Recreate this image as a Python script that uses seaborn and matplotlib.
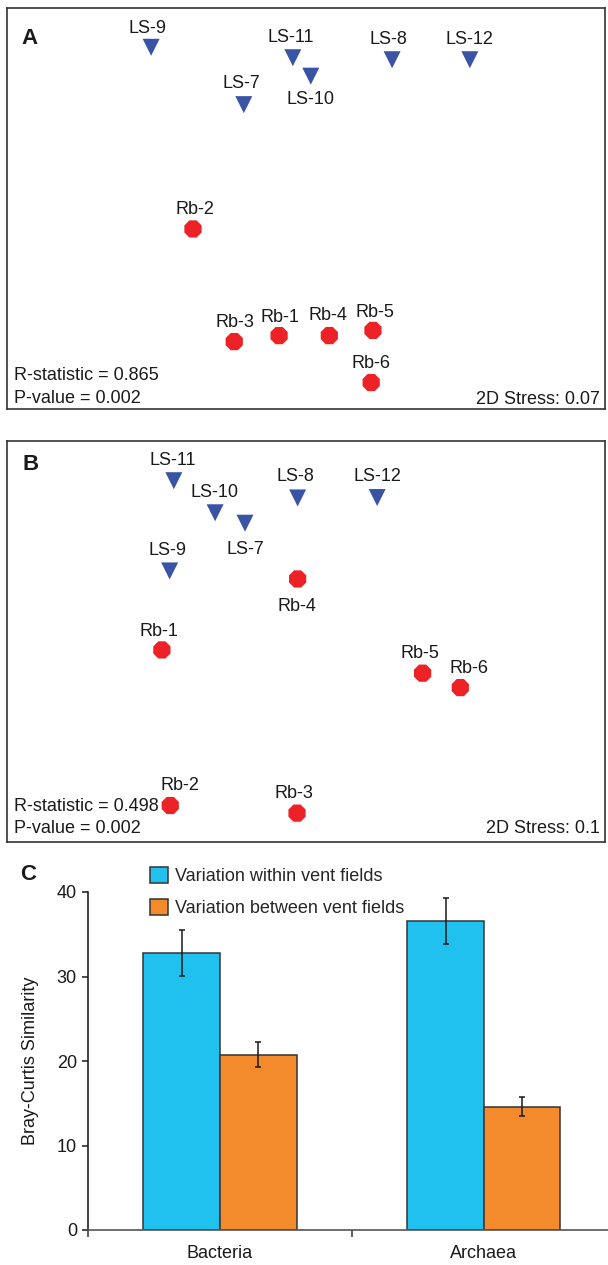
import numpy as np
import pandas as pd
import matplotlib
matplotlib.use("Agg")
import matplotlib.pyplot as plt
import seaborn as sns
from matplotlib.patches import Patch

# ---------------- data ----------------
# Panel A: NMDS ordination (arbitrary units)
a_samples = ["LS-9", "LS-11", "LS-10", "LS-7", "LS-8", "LS-12",
             "Rb-2", "Rb-3", "Rb-1", "Rb-4", "Rb-5", "Rb-6"]
a_x = [24.1, 47.8, 50.8, 39.6, 64.4, 77.4, 31.1, 38.0, 45.5, 53.9, 61.2, 60.9]
a_y = [90.2, 87.6, 83.0, 75.9, 87.1, 87.1, 44.9, 16.8, 18.3, 18.3, 19.6, 6.6]
a_stats = ["R-statistic = 0.865", "P-value = 0.002", "2D Stress: 0.07"]

# Panel B: NMDS ordination (arbitrary units)
b_samples = ["LS-11", "LS-10", "LS-7", "LS-8", "LS-12", "LS-9",
             "Rb-4", "Rb-1", "Rb-5", "Rb-6", "Rb-2", "Rb-3"]
b_x = [27.9, 34.8, 39.8, 48.6, 61.9, 27.2, 48.6, 25.9, 69.5, 75.8, 27.3, 48.5]
b_y = [90.1, 82.1, 79.5, 85.8, 85.9, 67.6, 65.6, 47.9, 42.1, 38.5, 9.1, 7.2]
b_stats = ["R-statistic = 0.498", "P-value = 0.002", "2D Stress: 0.1"]

# Panel C: Bray-Curtis similarity
domains = ["Bacteria", "Archaea"]
series_names = ["Variation within vent fields", "Variation between vent fields"]
within_vals = [32.8, 36.6]
within_err = [2.75, 2.7]
between_vals = [20.75, 14.6]
between_err = [1.5, 1.1]

# ---------------- layout / style ----------------
BLUE_TRI = "#3A54A5"
RED = "#EC2227"
BAR_BLUE = "#21C1EF"
BAR_ORANGE = "#F38B2C"
EDGE = "#333333"
FS = 13

# label offsets in pixels (dx, dy) relative to marker
a_label_off = {"LS-9": (-4, 21), "LS-11": (-2, 22), "LS-10": (0, -22), "LS-7": (-2, 23),
               "LS-8": (-4, 22), "LS-12": (0, 22), "Rb-2": (2, 21), "Rb-3": (1, 20.5),
               "Rb-1": (1, 19.5), "Rb-4": (-1, 22), "Rb-5": (2, 20), "Rb-6": (0, 21)}
b_label_off = {"LS-11": (-1.5, 21.5), "LS-10": (-1, 21.7), "LS-7": (0, -24), "LS-8": (-2, 23),
               "LS-12": (0, 23), "LS-9": (-2, 22.7), "Rb-4": (-1, -25.7), "Rb-1": (-3, 20.7),
               "Rb-5": (-2.7, 21), "Rb-6": (9, 21.4), "Rb-2": (9.5, 21.4), "Rb-3": (-3, 21.6)}

sns.set_theme(style="white")
plt.rcParams["font.family"] = ["Liberation Sans", "DejaVu Sans"]
plt.rcParams["font.size"] = FS

W, H = 608, 1265
fig = plt.figure(figsize=(W / 100, H / 100), dpi=100)
axA = fig.add_axes([7 / W, 1 - 409 / H, 598 / W, 401 / H])
axB = fig.add_axes([7 / W, 1 - 842 / H, 598 / W, 401 / H])
axC = fig.add_axes([88 / W, 1 - 1230 / H, 520 / W, 338 / H])

PX = 0.72  # points per pixel at 100 dpi
CAP_SHIFT = 1.8  # px, cap-centre vs box-centre


def nmds_panel(ax, samples, xs, ys, stats, offs, ystats):
    df = pd.DataFrame({"sample": samples, "x": xs, "y": ys})
    df["group"] = df["sample"].str.split("-").str[0]
    sns.scatterplot(data=df, x="x", y="y", hue="group", style="group", size="group",
                    markers={"LS": "v", "Rb": "8"}, sizes={"LS": 150, "Rb": 180},
                    palette={"LS": BLUE_TRI, "Rb": RED}, linewidth=0, legend=False,
                    ax=ax, zorder=3)
    for s, x, y in zip(samples, xs, ys):
        dx, dy = offs[s]
        ax.annotate(s, (x, y), xytext=(dx * PX, (dy - CAP_SHIFT) * PX),
                    textcoords="offset points", ha="center", va="center",
                    fontsize=FS, color="#1a1a1a")
    ax.set_xlim(0, 100)
    ax.set_ylim(0, 100)
    ax.set_xticks([])
    ax.set_yticks([])
    ax.set_xlabel("")
    ax.set_ylabel("")
    for sp in ax.spines.values():
        sp.set_visible(True)
        sp.set_color(EDGE)
        sp.set_linewidth(1.2)
    yR, yP, yS = ystats
    ax.text(0.011, yR, stats[0], transform=ax.transAxes, ha="left", va="center",
            fontsize=FS, color="#1a1a1a")
    ax.text(0.011, yP, stats[1], transform=ax.transAxes, ha="left", va="center",
            fontsize=FS, color="#1a1a1a")
    ax.text(0.9916, yS, stats[2], transform=ax.transAxes, ha="right", va="center",
            fontsize=FS, color="#1a1a1a")


nmds_panel(axA, a_samples, a_x, a_y, a_stats, a_label_off, (0.083, 0.0254, 0.024))
nmds_panel(axB, b_samples, b_x, b_y, b_stats, b_label_off, (0.088, 0.034, 0.034))

# ---------------- panel C ----------------
dfC = pd.DataFrame({
    "domain": domains * 2,
    "series": [series_names[0]] * 2 + [series_names[1]] * 2,
    "value": within_vals + between_vals,
    "err": within_err + between_err,
})
sns.barplot(data=dfC, x="domain", y="value", hue="series", order=domains,
            hue_order=series_names, palette=[BAR_BLUE, BAR_ORANGE], width=0.58,
            edgecolor=EDGE, linewidth=1.1, errorbar=None, legend=False, ax=axC,
            saturation=1)

for cont, sname in zip(axC.containers, series_names):
    sub = dfC[dfC["series"] == sname].set_index("domain").loc[domains]
    xs = [b.get_x() + b.get_width() / 2 for b in cont]
    axC.errorbar(xs, sub["value"].values, yerr=sub["err"].values, fmt="none",
                 ecolor="#1a1a1a", elinewidth=1.1, capsize=2, capthick=1.1, zorder=5)

axC.set_xlim(-0.5, 1.47)
axC.set_ylim(0, 40)
axC.set_yticks([0, 10, 20, 30, 40])
axC.set_xticks([0, 1])
axC.set_xticklabels(domains)
axC.set_xticks([-0.5, 0.5], minor=True)
axC.tick_params(axis="x", which="major", length=0, pad=11, labelsize=FS, colors="#1a1a1a")
axC.tick_params(axis="x", which="minor", length=5, width=1.1, direction="out",
                color="#333333", bottom=True)
axC.tick_params(axis="y", which="major", length=4, width=1.1, direction="out", pad=4,
                labelsize=FS, colors="#1a1a1a", left=True)
axC.set_xlabel("")
axC.set_ylabel("Bray-Curtis Similarity", fontsize=FS, color="#1a1a1a")
axC.yaxis.set_label_coords(-0.094, 0.5)
for side in ["top", "right"]:
    axC.spines[side].set_visible(False)
axC.spines["left"].set_color("#222222")
axC.spines["left"].set_linewidth(1.2)
axC.spines["bottom"].set_color("#555555")
axC.spines["bottom"].set_linewidth(1.2)

handles = [Patch(facecolor=BAR_BLUE, edgecolor=EDGE, linewidth=1.1),
           Patch(facecolor=BAR_ORANGE, edgecolor=EDGE, linewidth=1.1)]
fig.legend(handles, series_names, loc="center left",
           bbox_to_anchor=(150 / W, 1 - 892 / H), frameon=False, fontsize=FS,
           handlelength=1.0, handleheight=1.0, handletextpad=0.4, labelspacing=0.8,
           borderpad=0, borderaxespad=0)

# panel letters
for letter, (px, py) in {"A": (30, 36.4), "B": (30.5, 462.5), "C": (28.5, 872.7)}.items():
    fig.text(px / W, 1 - (py + 2.3) / H, letter, ha="center", va="center",
             fontsize=16, fontweight="bold", color="#1a1a1a")

fig.savefig("out.png", dpi=100)
